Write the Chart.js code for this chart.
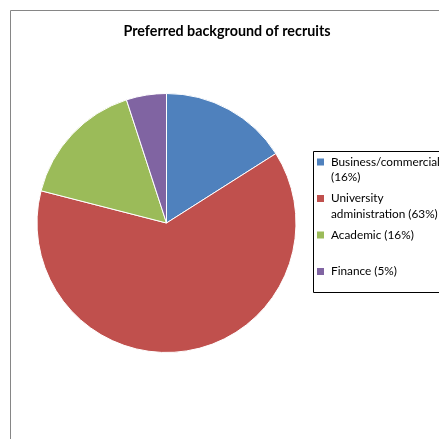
<!DOCTYPE html>
<html>
<head>
<meta charset="utf-8">
<script src="https://cdn.jsdelivr.net/npm/chart.js@4/dist/chart.umd.min.js"></script>
<style>
  html, body { margin: 0; padding: 0; background: #fff; overflow: hidden; }
  canvas { display: block; }
</style>
</head>
<body>
<canvas id="chart" width="439" height="439"></canvas>
<script>
const categories = ["Business/commercial", "University administration", "Academic", "Finance"];
const shares = [16, 63, 16, 5];
const sliceColors = ["#4F81BD", "#C0504D", "#9BBB59", "#8064A2"];
const chartTitle = "Preferred background of recruits";

// frame, title and the wrapped Excel-style legend
const decorations = {
  id: "decorations",
  afterDraw(chart) {
    const ctx = chart.ctx;
    ctx.save();

    // outer frame (only top and left edges are visible)
    ctx.strokeStyle = "#868686";
    ctx.lineWidth = 1;
    ctx.beginPath();
    ctx.moveTo(10.5, 500);
    ctx.lineTo(10.5, 10.5);
    ctx.lineTo(500, 10.5);
    ctx.stroke();

    // title
    ctx.fillStyle = "#000";
    ctx.font = "bold 14.3px Lato, 'Open Sans', sans-serif";
    ctx.textAlign = "center";
    ctx.textBaseline = "middle";
    ctx.fillText(chartTitle, 227, 31);

    // legend box, running off the right edge
    ctx.strokeStyle = "#000";
    ctx.beginPath();
    ctx.moveTo(500, 151.5);
    ctx.lineTo(313.5, 151.5);
    ctx.lineTo(313.5, 292.5);
    ctx.lineTo(500, 292.5);
    ctx.stroke();

    ctx.font = "11.8px Lato, 'Open Sans', sans-serif";
    ctx.textAlign = "left";
    const maxW = 112;
    categories.forEach((name, i) => {
      const text = name + " (" + shares[i] + "%)";
      const words = text.split(" ");
      const lines = [];
      let cur = "";
      words.forEach(w => {
        const test = cur ? cur + " " + w : w;
        if (cur && ctx.measureText(test).width > maxW) {
          lines.push(cur);
          cur = w;
        } else {
          cur = test;
        }
      });
      if (cur) lines.push(cur);

      const y0 = 162 + i * 36.5;
      ctx.fillStyle = sliceColors[i];
      ctx.fillRect(317, y0 - 3.5, 7, 7);
      ctx.fillStyle = "#000";
      lines.forEach((ln, k) => ctx.fillText(ln, 331, y0 + k * 15.5));
    });

    ctx.restore();
  }
};

new Chart(document.getElementById("chart"), {
  type: "pie",
  data: {
    labels: categories,
    datasets: [{
      data: shares,
      backgroundColor: sliceColors,
      borderColor: "#ffffff",
      borderWidth: 1
    }]
  },
  options: {
    responsive: false,
    animation: false,
    layout: { padding: { left: 36, right: 142, top: 93, bottom: 86 } },
    plugins: {
      legend: { display: false },
      title: { display: false },
      tooltip: { enabled: false }
    }
  },
  plugins: [decorations]
});
</script>
</body>
</html>
